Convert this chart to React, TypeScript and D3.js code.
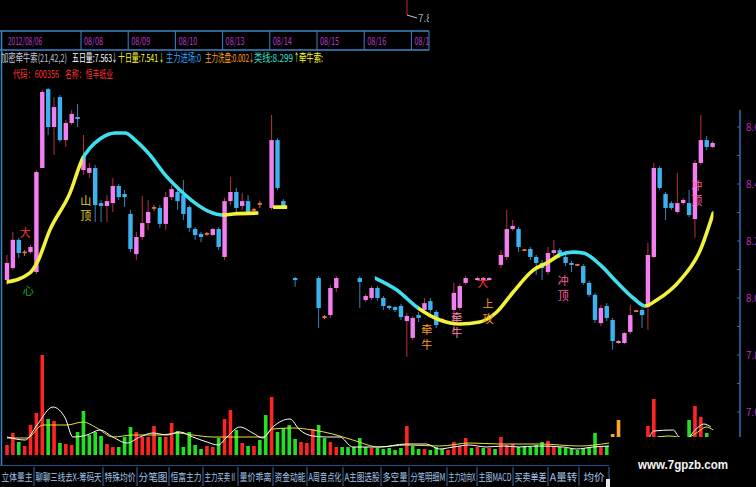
import React from 'react';
import * as d3 from 'd3';

const W = 756;
const H = 487;
const CJK = '"Noto Sans CJK SC", "Noto Sans", sans-serif';

// ---------- price candles (index position, OHLC) ----------
const candleIndex = [0,1,2,3,4,5,6,7,8,9,10,11,12,13,14,15,16,17,18,19,20,21,22,23,24,25,26,27,28,29,30,31,32,33,34,35,36,37,38,39,40,41,42,43,45,46,47,49,53,54,55,56,60,61,62,63,64,65,66,67,68,69,70,71,72,73,74,76,77,78,80,81,82,84,85,86,87,88,89,90,91,92,93,94,95,96,97,98,99,100,101,102,103,104,105,106,107,108,109,110,111,112,113,114,115,116,117,118,119,120];
const candleOpen = [8.063,8.105,8.204,8.160,8.161,8.091,8.456,8.733,8.600,8.705,8.554,8.614,8.635,8.449,8.439,8.456,8.333,8.323,8.333,8.393,8.365,8.295,8.154,8.214,8.263,8.316,8.316,8.260,8.354,8.372,8.361,8.319,8.242,8.225,8.225,8.221,8.242,8.144,8.340,8.372,8.323,8.340,8.309,8.330,8.316,8.554,8.340,8.070,8.070,7.933,7.940,8.035,8.070,7.993,8.000,8.035,8.000,7.972,7.968,7.972,7.919,7.860,7.940,7.958,7.989,7.951,7.923,7.958,7.965,8.053,8.063,8.063,8.063,8.116,8.144,8.242,8.242,8.168,8.172,8.144,8.123,8.091,8.158,8.168,8.144,8.123,8.116,8.112,8.053,8.011,7.912,7.972,7.923,7.842,7.842,7.881,7.954,7.958,7.968,8.144,8.456,8.365,8.333,8.302,8.333,8.333,8.277,8.474,8.554,8.530];
const candleHigh = [8.151,8.232,8.211,8.168,8.186,8.449,8.730,8.737,8.705,8.712,8.625,8.660,8.681,8.572,8.474,8.467,8.344,8.361,8.421,8.400,8.379,8.309,8.232,8.358,8.344,8.326,8.326,8.372,8.396,8.379,8.414,8.326,8.249,8.232,8.232,8.246,8.249,8.351,8.425,8.386,8.368,8.361,8.316,8.340,8.642,8.561,8.347,8.074,8.077,7.940,8.046,8.077,8.077,8.014,8.042,8.042,8.007,7.975,7.972,7.979,7.947,7.937,7.951,8.000,8.000,7.958,7.930,8.053,8.049,8.077,8.074,8.074,8.074,8.168,8.309,8.274,8.249,8.172,8.179,8.151,8.133,8.179,8.204,8.175,8.151,8.130,8.119,8.119,8.060,8.018,7.975,7.982,7.930,7.853,7.881,7.975,7.958,7.965,8.193,8.474,8.463,8.372,8.340,8.439,8.351,8.379,8.484,8.642,8.568,8.551];
const candleLow = [8.046,8.098,8.140,8.147,8.154,8.084,8.456,8.572,8.502,8.547,8.530,8.607,8.600,8.432,8.421,8.267,8.267,8.267,8.302,8.344,8.319,8.161,8.133,8.204,8.239,8.305,8.246,8.239,8.344,8.309,8.274,8.232,8.204,8.196,8.218,8.218,8.168,8.133,8.326,8.298,8.309,8.291,8.302,8.316,8.309,8.379,8.312,8.039,7.895,7.926,7.930,8.021,7.965,7.986,7.993,7.990,7.958,7.958,7.951,7.923,7.793,7.853,7.916,7.951,7.947,7.895,7.916,7.870,7.958,8.046,8.060,8.060,8.060,8.105,8.133,8.235,8.161,8.165,8.133,8.081,8.063,8.081,8.147,8.140,8.112,8.091,8.112,8.046,8.004,7.912,7.902,7.919,7.818,7.839,7.839,7.874,7.951,7.895,7.888,8.140,8.379,8.274,8.309,8.295,8.326,8.284,8.211,8.467,8.519,8.526];
const candleClose = [8.123,8.204,8.158,8.160,8.179,8.442,8.723,8.600,8.670,8.554,8.614,8.646,8.628,8.495,8.456,8.326,8.323,8.340,8.393,8.354,8.354,8.172,8.214,8.263,8.302,8.316,8.260,8.354,8.382,8.340,8.295,8.246,8.221,8.214,8.225,8.242,8.179,8.340,8.372,8.316,8.340,8.298,8.309,8.330,8.554,8.386,8.319,8.063,7.965,7.933,8.035,8.070,8.056,8.007,8.035,8.000,7.972,7.965,7.958,7.933,7.937,7.930,7.930,7.982,7.958,7.905,7.923,8.018,8.042,8.070,8.070,8.070,8.070,8.151,8.242,8.253,8.179,8.168,8.144,8.123,8.105,8.158,8.168,8.154,8.123,8.116,8.116,8.053,8.011,7.923,7.965,7.930,7.849,7.849,7.877,7.940,7.954,7.940,8.151,8.456,8.386,8.316,8.316,8.333,8.344,8.291,8.474,8.554,8.530,8.544];

// ---------- 牵牛索 line (state 1 = yellow, 0 = cyan) ----------
const rope1Idx = [0,3.9,5.1,7.3,10.7,12.9,14.1,15.8,18.4,20.1,21.8,24.3,26.9,29.4,32,34.5,36.6,38.5,42.7];
const rope1Val = [8.056,8.088,8.123,8.239,8.368,8.491,8.526,8.558,8.579,8.579,8.554,8.502,8.432,8.379,8.333,8.302,8.291,8.295,8.298];
const rope1State = [1,1,1,1,1,0,0,0,0,0,0,0,0,0,0,0,1,1];
const rope2Idx = [45.3,47.6];
const rope2Val = [8.319,8.319];
const rope2State = [1];
const rope3Idx = [62.6,66.3,69.9,73.6,77,80.4,83.3,86.1,89.5,91.8,94,96.3,98,100.9,103.7,106.5,108.5,110.5,114.5,117.9,120.1];
const rope3Val = [8.070,8.028,7.965,7.923,7.909,7.916,7.951,8.021,8.098,8.123,8.151,8.161,8.158,8.116,8.056,8.000,7.972,7.993,8.063,8.168,8.298];
const rope3State = [0,0,1,1,1,1,1,1,1,1,0,0,0,0,0,0,1,1,1,1];

// ---------- volume ----------
const volumeValues = [1.0,2.2,1.3,0.9,3.0,4.2,10.0,3.6,3.4,1.2,1.1,1.0,2.3,4.4,2.0,2.3,1.9,1.1,0.8,0.8,1.8,2.8,2.3,1.8,1.8,2.9,1.8,1.8,3.2,2.4,0.8,2.3,1.0,0.6,0.9,0.8,1.7,3.6,4.5,2.5,1.2,0.9,0.9,1.5,4.0,5.8,2.3,2.7,3.0,1.6,1.3,1.2,2.6,3.0,1.7,1.3,0.8,0.8,0.8,0.8,1.7,0.8,0.7,0.7,0.6,0.7,0.5,0.7,2.9,0.9,0.6,0.6,0.5,0.8,0.6,0.5,1.3,0.9,1.7,0.7,0.8,0.7,0.7,0.6,1.8,1.0,1.1,0.8,0.9,0.8,1.0,1.3,1.4,0.9,0.8,0.7,0.6,0.5,0.7,0.8,2.2,0.9,0.9,2.1,3.5,1.0,1.0,1.0,1.0,2.9,5.6,1.9,1.0,1.0,1.0,1.0,3.5,4.9,3.8,2.2,1.0];
const volumeKinds = ('rrgrrrrgrg' + 'rrgggggrrg' + 'ggrrrrgrrg' + 'ggggrrgrrg' + 'rgrggrgggg' + 'rrrggrrggg' + 'ggrgggggrg' + 'grgggrrrrg' + 'rgrgrrrggg' + 'ggrrgggggg' + 'grgoorrggr' + 'rgggrrgrrg' + 'r').split('');

const volWhiteAIdx = [0,3.1,5.1,7.8,9.9,11.2,13.6,15.8,18,20.4,22.6,24.8,27.2,29.4,31.6,34,35.9,37.4,39.6,41.8,43.5,45.2,48.1,49.8,52,54.4,56.6,58.8,61.2,63.3,67.9,71.3,73.5,75.9,78.6,81.5,84.4,87.1,90,94.6,96.8,99.7,102.4];
const volWhiteAVal = [1.8,1.5,3.0,4.8,3.7,1.8,2.0,2.5,1.8,1.2,1.8,2.2,2.0,2.3,1.8,1.3,1.0,1.8,2.8,2.2,1.7,2.8,3.6,2.5,1.9,1.8,1.8,0.8,0.8,0.8,1.1,1.1,0.6,0.8,1.0,0.8,0.9,0.8,0.9,0.8,0.6,0.8,0.9];
const volWhiteBIdx = [109.2,110,113.3,114.3,115.5,117.2,118.5,119.7];
const volWhiteBVal = [1.7,2.4,2.5,1.8,1.6,2.6,3.1,2.8];
const volYellowAIdx = [0,3.4,6.1,10.2,12.9,15.3,18,21.4,26,28.9,31.6,35,40.8,43.5,45.2,48.6,52,55.4,58.8,63.3,67.9,73.6,78.7,83.8,90.6,97.4,102.4];
const volYellowAVal = [1.7,1.7,3.0,3.0,3.3,2.7,1.8,2.0,2.0,2.2,2.0,1.8,1.8,1.8,2.6,2.7,2.5,2.1,1.5,0.8,1.0,0.9,1.2,1.1,1.1,0.9,1.2];
const volYellowBIdx = [109.9,112.6,115.5,117.5,118.9,120.1];
const volYellowBVal = [1.7,1.9,1.7,2.3,2.8,2.5];

// ---------- axis / labels ----------
const priceTicks = [7.6, 7.8, 8.0, 8.2, 8.4, 8.6];
const dateLabels = ['2012/08/06','08/08','08/09','08/10','08/13','08/14','08/15','08/16','08/17'];
const headerTexts = ['加密牵牛索(21,42,2)','五日量:7.563','↓','十日量:7.541','↓','主力进场:0','主力洗盘:0.002','↓','类线:8.299','↑','牵牛索:'];
const headerColors = ['#c8c8d8','#ffffff','#ffffff','#ffff30','#ffff30','#30a8ff','#ffa020','#ffa020','#30e0d0','#ffff30','#ffff30'];
const infoTexts = ['代码：600356', '名称：恒丰纸业'];
const noteTexts = ['大','心','山顶','牵牛','牵牛','大','上攻','冲顶','冲顶'];
const noteIdx = [3.1,3.6,13.4,71.4,76.5,80.9,81.8,94.6,117.3];
const notePrice = [8.232,8.028,8.344,7.891,7.933,8.056,7.982,8.063,8.396];
const noteColors = ['#ff3030','#20b020','#e8d020','#ff9a20','#ff8ab0','#ff3030','#ff9a20','#ff5aa8','#ff5aa8'];
const tabLabels = ['立体量主','聊聊三线去X-筹码天','特殊均价','分笔图','恒富主力','主力买卖Ⅱ','量价乖离','资金动能','A周音点化','A主图选股','多空量','分笔明细M','主力动向X','主图MACD','买卖单差','A量转','均价'];

// layout constants
const headerX = [1,72,112,118,159,166,205,249,254,294,299];
const headerW = [66,40,5,40,5,35,44,5,39,5,24];
const tabEdges = [0,34,103,137,169,203,238,273,307,343,381,409,447,477,513,548,579,609];

export default function App() {
  const xs = d3.scaleLinear().domain([0, 120]).range([7, 712.6]);
  const ys = d3.scaleLinear().domain([7.6, 8.6]).range([412, 127]);
  const yv = d3.scaleLinear().domain([0, 12]).range([455, 335]);
  const dx = d3.scaleLinear().domain([1, 8]).range([81, 411.4]);

  const UP = '#f27ef2';
  const DOWN = '#3cb2ee';
  const YEL = '#f2f23c';
  const CYA = '#3ee0f0';

  const ropeLine = d3.line<[number, number]>()
    .x(d => xs(d[0]))
    .y(d => ys(d[1]))
    .curve(d3.curveMonotoneX);

  const ropes = [
    { idx: rope1Idx, val: rope1Val, st: rope1State },
    { idx: rope2Idx, val: rope2Val, st: rope2State },
    { idx: rope3Idx, val: rope3Val, st: rope3State },
  ];

  const volLine = d3.line<[number, number]>()
    .x(d => xs(d[0]))
    .y(d => yv(d[1]))
    .curve(d3.curveMonotoneX);
  const zip = (a: number[], b: number[]) => a.map((v, i) => [v, b[i]] as [number, number]);

  const minorTicks = d3.range(7.6, 8.65, 0.1);

  return (
    <svg width={W} height={H} viewBox={`0 0 ${W} ${H}`}
      style={{ position: 'absolute', left: 0, top: 0, display: 'block', background: '#000' }}>
      <rect x={0} y={0} width={W} height={H} fill="#000" />
      <defs>
        <clipPath id="dateClip"><rect x={2} y={30} width={427} height={22} /></clipPath>
        <clipPath id="topClip"><rect x={0} y={0} width={429} height={30} /></clipPath>
        {ropes.map((r, ri) => [0, 1].map(c => (
          <clipPath key={`c${ri}-${c}`} id={`rope${ri}-${c}`}>
            {r.st.map((s, k) => s === c ? (
              <rect key={k} x={xs(r.idx[k]) - 0.3} y={0} width={xs(r.idx[k + 1]) - xs(r.idx[k]) + 0.6} height={H} />
            ) : null)}
          </clipPath>
        )))}
      </defs>

      {/* top marker */}
      <g clipPath="url(#topClip)">
        <line x1={407} y1={0} x2={407} y2={15} stroke="#d02020" strokeWidth={1} />
        <line x1={407} y1={15} x2={417} y2={18} stroke="#c8c8c8" strokeWidth={1} />
        <text x={418} y={22} fontSize={10} fill="#a8a8a8" fontFamily={CJK}>7.8</text>
      </g>

      {/* date strip */}
      <line x1={0} y1={31} x2={429} y2={31} stroke="#3a86c8" strokeWidth={1.5} />
      <line x1={0} y1={50} x2={429} y2={50} stroke="#3a86c8" strokeWidth={1.5} />
      <line x1={429} y1={31} x2={429} y2={50} stroke="#3a86c8" strokeWidth={1} />
      <g clipPath="url(#dateClip)">
        {dateLabels.map((d, i) => (
          <g key={d}>
            {i > 0 && <line x1={dx(i)} y1={31} x2={dx(i)} y2={50} stroke="#3a86c8" strokeWidth={1} />}
            <text x={i === 0 ? 8 : dx(i) + 3} y={45} fontSize={10} fill="#b838c8" fontFamily={CJK}
              textLength={i === 0 ? 34 : 19} lengthAdjust="spacingAndGlyphs">{d}</text>
          </g>
        ))}
      </g>

      {/* left border */}
      <line x1={1.5} y1={31} x2={1.5} y2={465} stroke="#3a86c8" strokeWidth={1.5} />

      {/* header */}
      {headerTexts.map((t, i) => (
        <text key={i} x={headerX[i]} y={62} fontSize={11} fill={headerColors[i]} fontFamily={CJK}
          textLength={headerW[i]} lengthAdjust="spacingAndGlyphs">{t}</text>
      ))}
      <text x={13} y={78} fontSize={10} fill="#ff3030" fontFamily={CJK} textLength={46} lengthAdjust="spacingAndGlyphs">{infoTexts[0]}</text>
      <text x={65} y={78} fontSize={10} fill="#ff3030" fontFamily={CJK} textLength={48} lengthAdjust="spacingAndGlyphs">{infoTexts[1]}</text>

      {/* volume bars */}
      {volumeValues.map((v, i) => {
        const k = volumeKinds[i];
        const col = k === 'r' ? '#ff2424' : k === 'g' ? '#22e022' : '#ffa424';
        return <rect key={`v${i}`} x={xs(i) - 1.8} y={yv(v)} width={3.6} height={yv(0) - yv(v)} fill={col} />;
      })}
      <path d={volLine(zip(volYellowAIdx, volYellowAVal)) || ''} fill="none" stroke="#e6e040" strokeWidth={1} />
      <path d={volLine(zip(volYellowBIdx, volYellowBVal)) || ''} fill="none" stroke="#e6e040" strokeWidth={1} />
      <path d={volLine(zip(volWhiteAIdx, volWhiteAVal)) || ''} fill="none" stroke="#ffffff" strokeWidth={1} />
      <path d={volLine(zip(volWhiteBIdx, volWhiteBVal)) || ''} fill="none" stroke="#ffffff" strokeWidth={1} />

      {/* candles */}
      {candleIndex.map((ci, j) => {
        const o = candleOpen[j], c = candleClose[j], h = candleHigh[j], l = candleLow[j];
        const x = xs(ci);
        const doji = Math.abs(o - c) < 0.004;
        const up = c > o;
        const top = ys(Math.max(o, c));
        const bot = ys(Math.min(o, c));
        const wick = doji ? '#e06a30' : up ? '#b83434' : '#3a80b8';
        return (
          <g key={`k${ci}`}>
            <line x1={x} y1={ys(h)} x2={x} y2={ys(l)} stroke={wick} strokeWidth={1} />
            {doji
              ? <rect x={x - 2.2} y={top - 0.8} width={4.4} height={1.6} fill="#ff7a30" />
              : <rect x={x - 2.2} y={top} width={4.4} height={Math.max(1.5, bot - top)} fill={up ? UP : DOWN} />}
          </g>
        );
      })}

      {/* rope line */}
      {ropes.map((r, ri) => {
        const d = ropeLine(zip(r.idx, r.val)) || '';
        return (
          <g key={`r${ri}`}>
            <path d={d} fill="none" stroke={YEL} strokeWidth={3.6} strokeLinecap="round" clipPath={`url(#rope${ri}-1)`} />
            <path d={d} fill="none" stroke={CYA} strokeWidth={3.6} strokeLinecap="round" clipPath={`url(#rope${ri}-0)`} />
          </g>
        );
      })}

      {/* notes */}
      {noteTexts.map((t, i) => (
        <g key={`n${i}`}>
          {t.split('').map((ch, j) => (
            <text key={j} x={xs(noteIdx[i])} y={ys(notePrice[i]) + j * 15} fontSize={11} fill={noteColors[i]}
              fontFamily={CJK} textAnchor="middle" dominantBaseline="central">{ch}</text>
          ))}
        </g>
      ))}

      {/* right axis */}
      <line x1={740} y1={110} x2={740} y2={437} stroke="#2f6fb5" strokeWidth={1.5} />
      {minorTicks.map((t, i) => (
        <line key={`mt${i}`} x1={737} y1={ys(t)} x2={740} y2={ys(t)} stroke="#2f6fb5" strokeWidth={1} />
      ))}
      {priceTicks.map(t => (
        <text key={`pt${t}`} x={746} y={ys(t) + 4} fontSize={10} fill="#b030b8" fontFamily={CJK}>{t.toFixed(1)}</text>
      ))}

      {/* tab bar */}
      <line x1={0} y1={465.5} x2={609} y2={465.5} stroke="#24508a" strokeWidth={1} />
      {tabLabels.map((t, i) => {
        const x0 = tabEdges[i], x1 = tabEdges[i + 1];
        const w = x1 - x0;
        const nat = t.split('').reduce((s, ch) => s + (ch.charCodeAt(0) > 255 ? 10.5 : 6), 0);
        const fit = nat > w - 3;
        return (
          <g key={`t${i}`}>
            <line x1={x1} y1={467} x2={x1} y2={486} stroke="#3a6aa0" strokeWidth={1} />
            <text x={(x0 + x1) / 2} y={481} fontSize={10.5} fill="#a4c4ea" fontFamily={CJK} textAnchor="middle"
              textLength={fit ? w - 3 : undefined} lengthAdjust={fit ? 'spacingAndGlyphs' : undefined}>{t}</text>
          </g>
        );
      })}
      <rect x={606} y={479} width={5} height={8} fill="#e8e8e8" />

      {/* watermark box */}
      <rect x={610} y={437} width={146} height={50} fill="#000" />
      <text x={638} y={469} fontSize={12.5} fontWeight="bold" fill="#f4f4f4" fontFamily='"Liberation Sans", Arial, sans-serif'
        textLength={90} lengthAdjust="spacingAndGlyphs">www.7gpzb.com</text>
    </svg>
  );
}
